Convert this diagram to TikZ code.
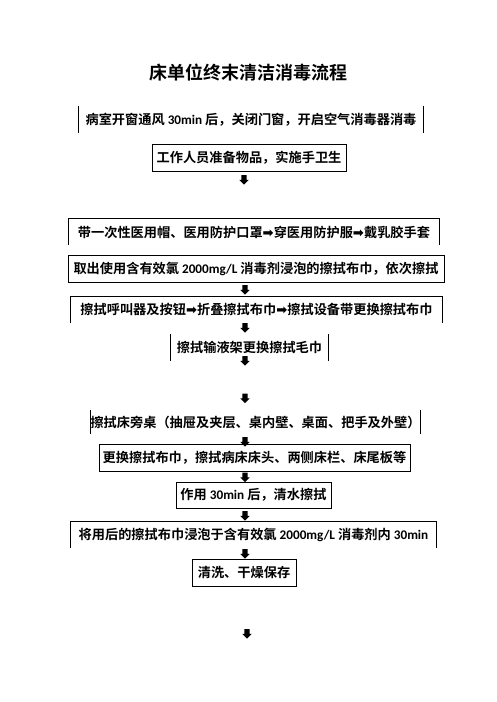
\documentclass[tikz,border=0pt]{standalone}
\usepackage{fontspec}
\setmainfont{Noto Sans CJK SC}[BoldFont={* Bold}]
\newfontfamily\lat{Carlito}[UprightFont={* Bold},BoldFont={* Bold}]
\newfontfamily\symf{DejaVu Sans}
\usetikzlibrary{shapes.arrows}
\newcommand\rarrowsym{{\symf ➡}}
\begin{document}
\begin{tikzpicture}[x=1pt,y=-1pt,
 txt/.style={inner sep=0pt, font=\bfseries\fontsize{13.2pt}{16pt}\selectfont},
 frame/.style={line width=0.8pt, draw=black},
 dn/.style={single arrow, fill=black, draw=none, shape border rotate=270, inner sep=2.4pt, minimum height=9.5pt, single arrow head extend=2pt}]
\path[use as bounding box] (0,0) rectangle (496,702);
\node[inner sep=0pt, font=\bfseries\fontsize{18pt}{22pt}\selectfont] (title) at (248,73) {床单位终末清洁消毒流程};
% box 1 (sides only)
\node[txt, minimum width=344pt, minimum height=27pt] (b1) at (251,119.5) {病室开窗通风 {\lat 30min} 后，关闭门窗，开启空气消毒器消毒};
\draw[frame] (b1.north west) -- (b1.south west) (b1.north east) -- (b1.south east);
% box 2
\node[txt, frame, minimum width=194pt, minimum height=27pt] (b2) at (249,157.5) {工作人员准备物品，实施手卫生};
\node[dn] (a1) at (244,178.5) {};
% box 3 (open bottom)
\node[txt, minimum width=370pt, minimum height=26pt] (b3) at (254,232) {带一次性医用帽、医用防护口罩\rarrowsym 穿医用防护服\rarrowsym 戴乳胶手套};
\draw[frame] (b3.south west) -- (b3.north west) -- (b3.north east) -- (b3.south east);
% box 4
\node[txt, frame, minimum width=376pt, minimum height=27pt] (b4) at (256,268.5) {取出使用含有效氯 {\lat 2000mg/L} 消毒剂浸泡的擦拭布巾，依次擦拭};
\node[dn] (a2) at (245,288.5) {};
% box 5 (open bottom)
\node[txt, minimum width=371pt, minimum height=26pt] (b5) at (256.5,309.5) {擦拭呼叫器及按钮\rarrowsym 折叠擦拭布巾\rarrowsym 擦拭设备带更换擦拭布巾};
\draw[frame] (b5.south west) -- (b5.north west) -- (b5.north east) -- (b5.south east);
\node[dn] (a3) at (245,326.5) {};
% box 6 (sides only)
\node[txt, minimum width=157pt, minimum height=27pt] (b6) at (249.5,347.5) {擦拭输液架更换擦拭毛巾};
\draw[frame] (b6.north west) -- (b6.south west) (b6.north east) -- (b6.south east);
\node[dn] (a4) at (245,359.5) {};
\node[dn] (a5) at (245,397) {};
% box 7 (sides only)
\node[txt, minimum width=327pt, minimum height=24pt] (b7) at (255.5,422) {擦拭床旁桌（抽屉及夹层、桌内壁、桌面、把手及外壁）};
\draw[frame] (b7.north west) -- (b7.south west) (b7.north east) -- (b7.south east);
\node[dn] (a6) at (245,440.5) {};
% box 8
\node[txt, frame, minimum width=311pt, minimum height=27pt] (b8) at (254.5,457.5) {更换擦拭布巾，擦拭病床床头、两侧床栏、床尾板等};
\node[dn] (a7) at (245,476) {};
% box 9
\node[txt, frame, minimum width=155pt, minimum height=26pt] (b9) at (253.5,495) {作用 {\lat 30min} 后，清水擦拭};
\node[dn] (a8) at (245,514.5) {};
% box 10 (open bottom)
\node[txt, minimum width=365pt, minimum height=26pt] (b10) at (253.5,535) {将用后的擦拭布巾浸泡于含有效氯 {\lat 2000mg/L} 消毒剂内 {\lat 30min}};
\draw[frame] (b10.south west) -- (b10.north west) -- (b10.north east) -- (b10.south east);
\node[dn] (a9) at (245,552.5) {};
% box 11
\node[txt, frame, minimum width=104pt, minimum height=27pt] (b11) at (244,572.5) {清洗、干燥保存};
\node[dn] (a10) at (247,632.5) {};
\end{tikzpicture}
\end{document}
